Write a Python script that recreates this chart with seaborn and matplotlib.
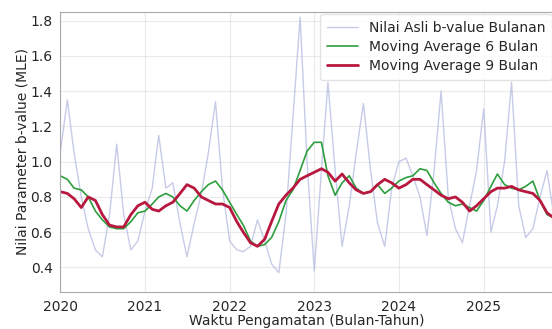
import numpy as np
import pandas as pd
import matplotlib
matplotlib.use("Agg")
import matplotlib.pyplot as plt
import matplotlib.dates as mdates
import seaborn as sns

# ------------------------------------------------------------------ data
START_MONTH = "2020-01-01"

b_value_bulanan = [
    1.05, 1.35, 1.05, 0.80, 0.62, 0.50, 0.46, 0.70, 1.10, 0.70,
    0.50, 0.55, 0.72, 0.85, 1.15, 0.85, 0.88, 0.65, 0.46, 0.65,
    0.82, 1.05, 1.34, 0.85, 0.55, 0.50, 0.49, 0.52, 0.67, 0.55,
    0.42, 0.37, 0.70, 1.25, 1.82, 1.00, 0.38, 0.95, 1.45, 0.95,
    0.52, 0.75, 1.05, 1.33, 0.95, 0.65, 0.52, 0.85, 1.00, 1.02,
    0.92, 0.80, 0.58, 0.95, 1.40, 0.80, 0.62, 0.54, 0.75, 0.95,
    1.30, 0.60, 0.75, 1.00, 1.45, 0.75, 0.57, 0.62, 0.80, 0.95,
    0.68,
]

ma6_bulan = [
    0.92, 0.90, 0.85, 0.84, 0.80, 0.72, 0.67, 0.63, 0.62, 0.62,
    0.66, 0.71, 0.72, 0.76, 0.80, 0.82, 0.80, 0.75, 0.72, 0.78,
    0.83, 0.87, 0.89, 0.84, 0.77, 0.70, 0.64, 0.55, 0.52, 0.53,
    0.57, 0.66, 0.78, 0.84, 0.95, 1.06, 1.11, 1.11, 0.92, 0.81,
    0.88, 0.92, 0.85, 0.82, 0.83, 0.87, 0.82, 0.85, 0.89, 0.91,
    0.92, 0.96, 0.95, 0.88, 0.82, 0.77, 0.75, 0.76, 0.74, 0.72,
    0.78, 0.86, 0.93, 0.87, 0.85, 0.84, 0.86, 0.89, 0.78, 0.70,
    0.68,
]

ma9_bulan = [
    0.83, 0.82, 0.79, 0.74, 0.80, 0.78, 0.70, 0.64, 0.63, 0.63,
    0.70, 0.75, 0.77, 0.73, 0.72, 0.75, 0.77, 0.82, 0.87, 0.85,
    0.80, 0.78, 0.76, 0.76, 0.74, 0.66, 0.60, 0.54, 0.52, 0.56,
    0.66, 0.76, 0.81, 0.85, 0.90, 0.92, 0.94, 0.96, 0.94, 0.89,
    0.93, 0.88, 0.84, 0.82, 0.83, 0.87, 0.90, 0.88, 0.85, 0.87,
    0.90, 0.90, 0.87, 0.84, 0.81, 0.79, 0.80, 0.77, 0.72, 0.75,
    0.79, 0.83, 0.85, 0.85, 0.86, 0.84, 0.83, 0.82, 0.78, 0.71,
    0.68,
]

bulan = pd.date_range(START_MONTH, periods=len(b_value_bulanan), freq="MS")

df = pd.DataFrame({
    "bulan": bulan,
    "asli": b_value_bulanan,
    "ma6": ma6_bulan,
    "ma9": ma9_bulan,
})

# ------------------------------------------------------------------ plot
sns.set_style("whitegrid")
plt.rcParams["font.family"] = ["DejaVu Sans"]

fig = plt.figure(figsize=(5.52, 3.29), dpi=100)
ax = fig.add_axes([0.109, 0.112, 0.895, 0.852])

sns.lineplot(data=df, x="bulan", y="asli", ax=ax, color="#a9b0dc",
             linewidth=1.0, alpha=0.65, label="Nilai Asli b-value Bulanan")
sns.lineplot(data=df, x="bulan", y="ma6", ax=ax, color="#2e9e3e",
             linewidth=1.2, label="Moving Average 6 Bulan")
sns.lineplot(data=df, x="bulan", y="ma9", ax=ax, color="#b8183f",
             linewidth=2.0, label="Moving Average 9 Bulan")

ax.set_xlim(bulan[0], bulan[-1])
ax.set_ylim(0.26, 1.85)
ax.set_yticks([0.4, 0.6, 0.8, 1.0, 1.2, 1.4, 1.6, 1.8])
ax.xaxis.set_major_locator(mdates.YearLocator())
ax.xaxis.set_major_formatter(mdates.DateFormatter("%Y"))

ax.set_xlabel("Waktu Pengamatan (Bulan-Tahun)", fontsize=10, labelpad=0)
ax.set_ylabel("Nilai Parameter b-value (MLE)", fontsize=10, labelpad=0.5)
ax.tick_params(axis="both", labelsize=10, pad=2)

ax.grid(True, color="#dddddd", alpha=0.6, linewidth=0.8)
for side in ["left", "bottom", "top"]:
    ax.spines[side].set_color("#aaaaaa")

leg = ax.legend(loc="upper right", fontsize=10, frameon=True,
                labelspacing=0.35, handlelength=2.2,
                borderaxespad=0.15, borderpad=0.5)
leg.get_frame().set_edgecolor("#dddddd")

fig.savefig("out.png", dpi=100)
